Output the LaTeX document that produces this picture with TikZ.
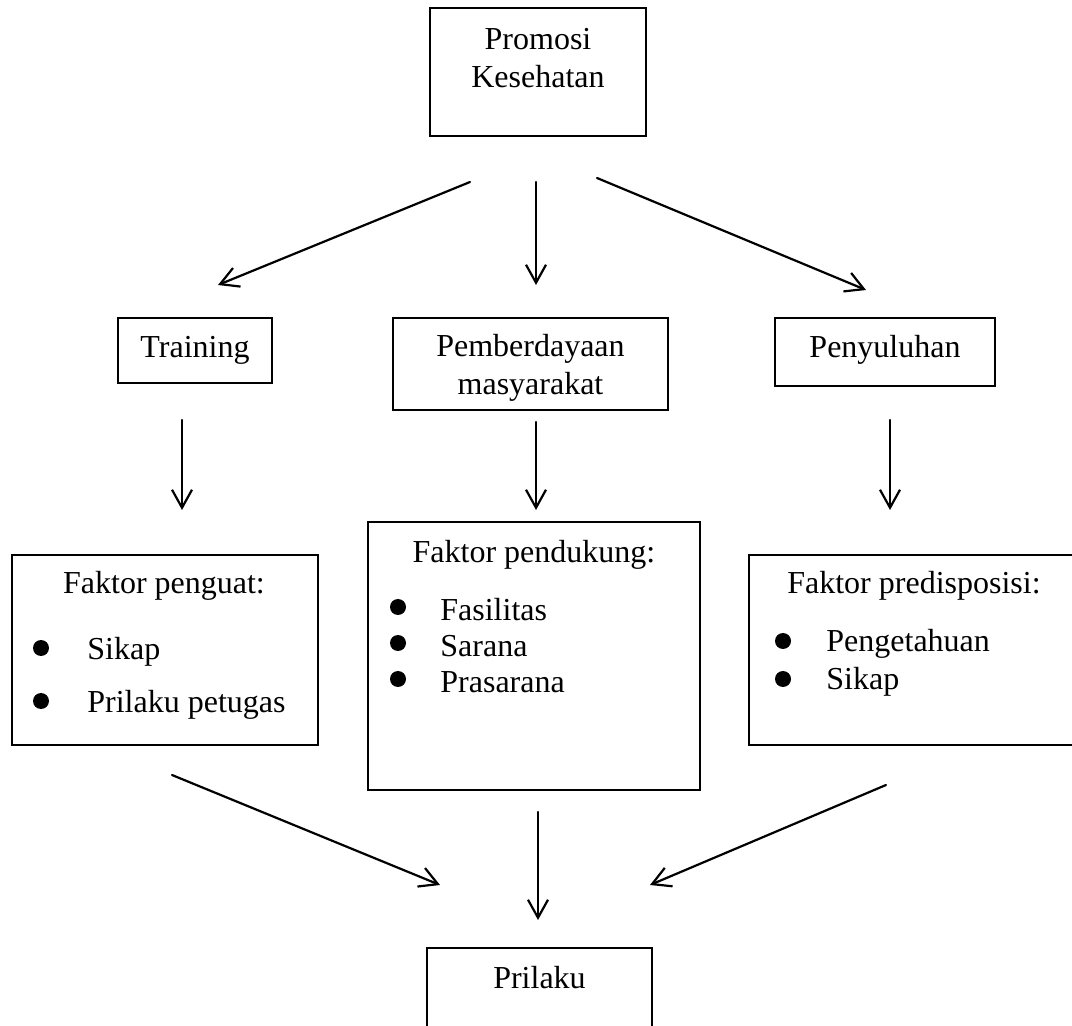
\documentclass[tikz,border=0pt]{standalone}
\usepackage{fontspec}
\setmainfont{Liberation Serif}
\usetikzlibrary{arrows.meta}
\begin{document}
\begin{tikzpicture}[x=0.5pt,y=-0.5pt,
  box/.style={draw,line width=1pt,inner sep=0pt},
  txt/.style={font=\fontsize{16pt}{19pt}\selectfont,inner sep=0pt,align=center},
  item/.style={txt,anchor=west},
  dot/.style={circle,fill,inner sep=0pt,minimum size=8pt},
  link/.style={line width=1.1pt,line cap=round,-{Straight Barb[length=9pt,width=10pt,line width=1.1pt]}}]
\useasboundingbox (0,0) rectangle (1072,1026);
\clip (0,0) rectangle (1072,1026);

% top box
\node[box,minimum width=108pt,minimum height=64pt] (promo) at (538,72) {};
\node[txt] (promoT) at (538,58) {Promosi\\Kesehatan};

% second row
\node[box,minimum width=77pt,minimum height=32.5pt] (train) at (195,350.5) {};
\node[txt] (trainT) at (195,350) {Training};
\node[box,minimum width=137.5pt,minimum height=46pt] (pemb) at (530.5,364) {};
\node[txt] (pembT) at (530.5,368) {Pemberdayaan\\masyarakat};
\node[box,minimum width=110pt,minimum height=34pt] (peny) at (885,352) {};
\node[txt] (penyT) at (885,350) {Penyuluhan};

% factor boxes
\node[box,minimum width=153pt,minimum height=95pt] (kuat) at (165,650) {};
\node[txt] (kuatT) at (164,586) {Faktor penguat:};
\node[dot] (kuatD1) at (41,648) {};
\node[item] (kuatI1) at (87,652) {Sikap};
\node[dot] (kuatD2) at (41,701) {};
\node[item] (kuatI2) at (87,705) {Prilaku petugas};

\node[box,minimum width=166pt,minimum height=134pt] (dukung) at (534,656) {};
\node[txt] (dukungT) at (534,555) {Faktor pendukung:};
\node[dot] (dukungD1) at (398,607) {};
\node[item] (dukungI1) at (440,610) {Fasilitas};
\node[dot] (dukungD2) at (398,643) {};
\node[item] (dukungI2) at (440,646) {Sarana};
\node[dot] (dukungD3) at (398,679) {};
\node[item] (dukungI3) at (440,682) {Prasarana};

\node[box,minimum width=170.5pt,minimum height=95pt] (predis) at (919.5,650) {};
\node[txt] (predisT) at (914,586) {Faktor predisposisi:};
\node[dot] (predisD1) at (783,641) {};
\node[item] (predisI1) at (826,644) {Pengetahuan};
\node[dot] (predisD2) at (783,679) {};
\node[item] (predisI2) at (826,682) {Sikap};

% result box
\node[box,minimum width=112.5pt,minimum height=51pt] (hasil) at (539.5,999) {};
\node[txt] (hasilT) at (539.5,978) {Prilaku};

% connector ends
\coordinate (a1s) at (470,182);  \coordinate (a1e) at (218,285);
\coordinate (a2s) at (536,182);  \coordinate (a2e) at (536,285);
\coordinate (a3s) at (597,178);  \coordinate (a3e) at (866,290);
\coordinate (b1s) at (182,420);  \coordinate (b1e) at (182,510);
\coordinate (b2s) at (536,422);  \coordinate (b2e) at (536,510);
\coordinate (b3s) at (890,420);  \coordinate (b3e) at (890,510);
\coordinate (c1s) at (172,775);  \coordinate (c1e) at (440,885);
\coordinate (c2s) at (538,812);  \coordinate (c2e) at (538,920);
\coordinate (c3s) at (886,785);  \coordinate (c3e) at (650,885);

\draw[link] (a1s) -- (a1e);
\draw[link] (a2s) -- (a2e);
\draw[link] (a3s) -- (a3e);
\draw[link] (b1s) -- (b1e);
\draw[link] (b2s) -- (b2e);
\draw[link] (b3s) -- (b3e);
\draw[link] (c1s) -- (c1e);
\draw[link] (c2s) -- (c2e);
\draw[link] (c3s) -- (c3e);
\end{tikzpicture}
\end{document}
